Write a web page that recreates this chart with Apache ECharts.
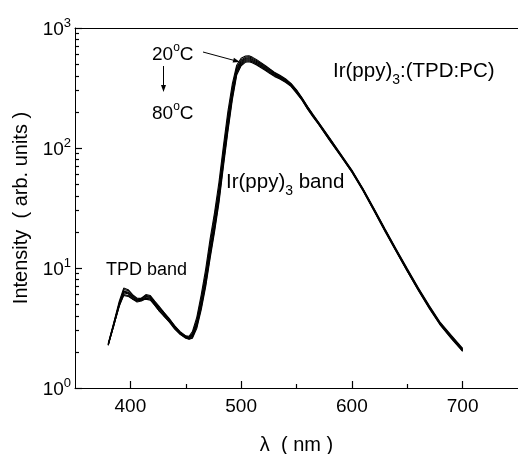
<!DOCTYPE html>
<html>
<head>
<meta charset="utf-8">
<script src="https://cdn.jsdelivr.net/npm/echarts@6/dist/echarts.min.js"></script>
<style>
html,body{margin:0;padding:0;background:#fff;}
#chart{width:518px;height:454px;}
</style>
</head>
<body>
<div id="chart"></div>
<script>
// ---- data ----
const wavelength = [380,385,390,394,398,402,406,410,414,418,422,426,430,435,440,445,450,453,456,460,464,468,472,476,480,484,488,492,496,500,504,507,510,514,518,522,526,530,535,540,545,550,555,560,565,570,580,590,600,610,620,630,640,650,660,670,680,690,700];

const int20 = [2.35,3.5,5.3,6.8,6.6,6.0,5.6,5.6,6.0,5.9,5.3,4.8,4.3,3.8,3.3,2.95,2.72,2.7,2.95,3.9,6.0,9.8,17.5,29,52,104,200,340,490,560,585,588,572,545,515,485,455,428,404,378,346,305,262,222,190,164,121,89,65.5,46,31.3,21.1,14.4,9.9,6.85,4.85,3.5,2.73,2.14];
const int30 = [2.3,3.4,5.1,6.6,6.5,5.9,5.5,5.6,5.9,5.8,5.2,4.7,4.3,3.75,3.3,2.9,2.7,2.66,2.85,3.7,5.6,9.0,16,27,47,95,183,318,470,542,572,576,561,535,506,477,448,422,399,373,342,302,260,220,188,162,120,88,65,45.5,31,20.9,14.2,9.75,6.75,4.78,3.45,2.69,2.11];
const int40 = [2.28,3.3,4.9,6.4,6.3,5.8,5.4,5.5,5.8,5.7,5.1,4.6,4.2,3.7,3.25,2.9,2.68,2.63,2.78,3.55,5.3,8.5,15,25,44,88,170,300,455,528,560,564,550,525,498,470,441,416,394,369,339,299,258,218,187,161,119,87.5,64.5,45.2,30.7,20.7,14.1,9.65,6.7,4.74,3.42,2.66,2.09];
const int50 = [2.3,3.4,5.0,6.3,6.2,5.7,5.4,5.5,5.7,5.7,5.1,4.6,4.2,3.7,3.2,2.85,2.66,2.6,2.72,3.45,5.1,8.1,14.2,23.5,41,83,160,287,443,517,550,554,540,516,490,463,435,411,389,365,335,296,256,216,185,160,118,87,64,45,30.5,20.6,14,9.6,6.65,4.7,3.4,2.65,2.08];
const int60 = [2.32,3.45,5.1,6.2,6.1,5.6,5.3,5.4,5.6,5.6,5.0,4.5,4.1,3.6,3.2,2.85,2.65,2.58,2.68,3.35,4.9,7.7,13.4,22,39,78,151,275,430,506,540,544,531,507,482,456,429,405,385,361,332,293,254,214,184,159,117,86.5,63.6,44.7,30.3,20.4,13.9,9.5,6.6,4.66,3.38,2.62,2.06];
const int70 = [2.27,3.35,4.8,6.0,5.9,5.5,5.2,5.3,5.6,5.5,4.9,4.4,4.0,3.6,3.15,2.8,2.62,2.56,2.64,3.25,4.7,7.3,12.6,21,37,74,143,262,418,495,530,534,522,499,474,449,423,400,380,357,329,290,252,213,183,158,116,86,63.2,44.4,30.1,20.3,13.8,9.45,6.55,4.62,3.35,2.6,2.04];
const int80 = [2.3,3.3,4.9,5.9,5.8,5.5,5.3,5.4,5.5,5.4,4.9,4.4,4.0,3.55,3.1,2.8,2.6,2.55,2.6,3.15,4.5,7.0,12,20,35,70,136,250,405,485,520,524,513,491,467,443,417,395,376,353,326,287,250,211,181,157,115,85.5,62.8,44,29.9,20.1,13.7,9.4,6.5,4.58,3.32,2.57,2.02];

const seriesNames = ['20°C','30°C','40°C','50°C','60°C','70°C','80°C'];
const seriesValues = [int20,int30,int40,int50,int60,int70,int80];

const xTicks = [400,500,600,700];
const xMinorTicks = [450,550,650];
const yMinorTicks = [2,3,4,5,6,7,8,9,20,30,40,50,60,70,80,90,200,300,400,500,600,700,800,900];

// ---- chart ----
const FONT = '"Liberation Sans", Arial, Helvetica, sans-serif';
const chart = echarts.init(document.getElementById('chart'), null, {renderer:'canvas'});

function arrow(x1,y1,x2,y2,len,half){
  const dx=x2-x1, dy=y2-y1, L=Math.hypot(dx,dy), ux=dx/L, uy=dy/L;
  const bx=x2-ux*len, by=y2-uy*len;
  return [
    {type:'line', shape:{x1:x1,y1:y1,x2:bx,y2:by}, style:{stroke:'#000', lineWidth:1}},
    {type:'polygon', shape:{points:[[x2,y2],[bx-uy*half,by+ux*half],[bx+uy*half,by-ux*half]]}, style:{fill:'#000'}}
  ];
}

const richN = {fontSize:19, fontFamily:FONT, fill:'#000', color:'#000', verticalAlign:'bottom'};
const supO = {fontSize:12, fontFamily:FONT, fill:'#000', color:'#000', verticalAlign:'bottom', padding:[0,0,10,0]};
const bigN = {fontSize:20.5, fontFamily:FONT, fill:'#000', color:'#000', verticalAlign:'bottom', padding:[0,0,5,0]};
const subU = {fontSize:14, fontFamily:FONT, fill:'#000', color:'#000', verticalAlign:'bottom'};

function degText(t){ return '{n|'+t+'}{o|o}{n|C}'; }

const option = {
  animation:false,
  backgroundColor:'#fff',
  grid:{left:75, right:0, top:28, bottom:66, containLabel:false, outerBoundsMode:'none'},
  xAxis:[
    {type:'value', min:350, max:750, position:'bottom',
     axisLine:{show:true, lineStyle:{color:'#000', width:1}},
     axisTick:{show:true, inside:true, length:7, customValues:xTicks, lineStyle:{color:'#000', width:1.2}},
     axisLabel:{customValues:xTicks, color:'#000', fontSize:19, fontFamily:FONT, margin:9},
     splitLine:{show:false},
     name:'λ  ( nm )', nameLocation:'middle', nameGap:47,
     nameTextStyle:{color:'#000', fontSize:20, fontFamily:FONT}},
    {type:'value', min:350, max:750, position:'bottom',
     axisLine:{show:false},
     axisTick:{show:true, inside:true, length:4, customValues:xMinorTicks, lineStyle:{color:'#000', width:1.2}},
     axisLabel:{show:false}, splitLine:{show:false}},
    {type:'value', min:350, max:750, position:'top',
     axisLine:{show:true, lineStyle:{color:'#000', width:1}},
     axisTick:{show:false}, axisLabel:{show:false}, splitLine:{show:false}}
  ],
  yAxis:[
    {type:'log', logBase:10, min:1, max:1000, splitNumber:3, position:'left',
     axisLine:{show:true, lineStyle:{color:'#000', width:1}},
     axisTick:{show:true, inside:true, length:7, lineStyle:{color:'#000', width:1.2}},
     axisLabel:{color:'#000', margin:4,
       formatter:function(v){ return '{b|10}{s|'+Math.round(Math.log10(v))+'}'; },
       rich:{ b:{fontSize:19, fontFamily:FONT, color:'#000', verticalAlign:'bottom'},
              s:{fontSize:13, fontFamily:FONT, color:'#000', verticalAlign:'bottom', padding:[0,0,9,0]} }},
     splitLine:{show:false}, minorSplitLine:{show:false},
     name:'Intensity  ( arb. units )', nameLocation:'middle', nameGap:41, nameRotate:90,
     nameTextStyle:{color:'#000', fontSize:20, fontFamily:FONT}},
    {type:'value', min:0, max:3, position:'left',
     axisLine:{show:false},
     axisTick:{show:true, inside:true, length:4, customValues:yMinorTicks.map(function(v){return Math.log10(v);}), lineStyle:{color:'#000', width:1.2}},
     axisLabel:{show:false}, splitLine:{show:false}}
  ],
  series: seriesValues.map(function(arr, k){
    return {
      name: seriesNames[k], type:'line', xAxisIndex:0, yAxisIndex:0,
      data: wavelength.map(function(w,i){ return [w, arr[i]]; }),
      showSymbol:false, symbol:'none', smooth:false,
      lineStyle:{color:'#000', width:1.1},
      emphasis:{disabled:true}, silent:true
    };
  }),
  graphic: [].concat(
    [
      {type:'text', x:152, y:53, style:{text:degText('20'), rich:{n:richN, o:supO}, align:'left', verticalAlign:'middle'}},
      {type:'text', x:152, y:112, style:{text:degText('80'), rich:{n:richN, o:supO}, align:'left', verticalAlign:'middle'}},
      {type:'text', x:333, y:74, style:{text:'{n|Ir(ppy)}{u|3}{n|:(TPD:PC)}',
        rich:{n:bigN, u:subU}, align:'left', verticalAlign:'middle'}},
      {type:'text', x:226, y:185, style:{text:'{n|Ir(ppy)}{u|3}{n| band}',
        rich:{n:bigN, u:subU}, align:'left', verticalAlign:'middle'}},
      {type:'text', x:106, y:270, style:{text:'TPD band', font:'18px '+FONT, fill:'#000', align:'left', verticalAlign:'middle'}}
    ],
    arrow(203,52,240,62,7,2.5),
    arrow(163.5,66,163.5,92,7,2.5)
  )
};
chart.setOption(option);
</script>
</body>
</html>
